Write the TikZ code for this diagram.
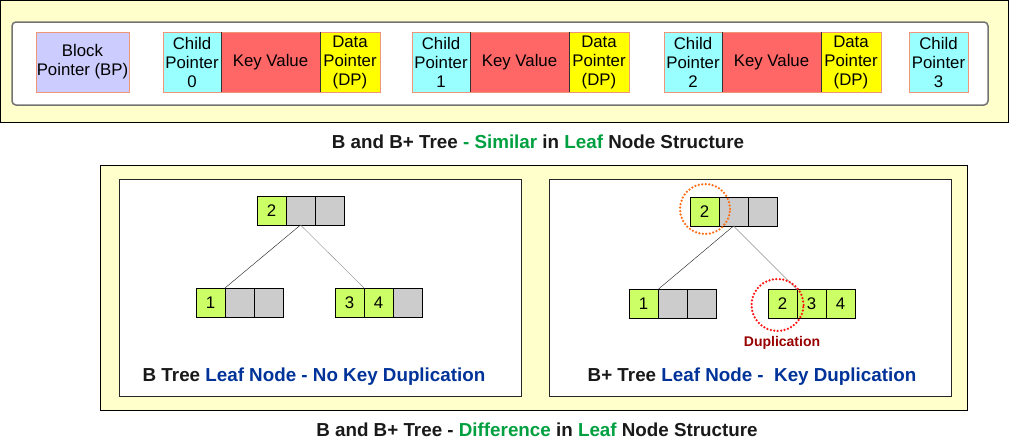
\documentclass[tikz,border=0pt]{standalone}
\usepackage{fontspec}
\setmainfont{Liberation Sans}
\usetikzlibrary{positioning}
\definecolor{paleyellow}{RGB}{255,255,204}
\definecolor{bplilac}{RGB}{204,204,255}
\definecolor{cpcyan}{RGB}{153,255,255}
\definecolor{kvred}{RGB}{255,102,102}
\definecolor{dpyellow}{RGB}{255,255,0}
\definecolor{cellborder}{RGB}{240,150,120}
\definecolor{keygreen}{RGB}{204,255,102}
\definecolor{emptygray}{RGB}{204,204,204}
\definecolor{titlegreen}{RGB}{0,160,64}
\definecolor{titleblue}{RGB}{0,51,153}
\definecolor{dupred}{RGB}{153,0,0}
\definecolor{ringorange}{RGB}{255,110,20}
\definecolor{ringred}{RGB}{255,20,20}

\begin{document}
\begin{tikzpicture}[x=1pt, y=-1pt,
    every node/.style={font=\fontsize{16.8}{19}\selectfont, inner sep=0pt, outer sep=0pt},
    field/.style={draw=cellborder, line width=0.8pt, minimum height=60pt, align=center},
    keycell/.style={draw=black, fill=keygreen, minimum width=29pt, minimum height=29pt},
    emptycell/.style={draw=black, fill=emptygray, minimum width=29pt, minimum height=29pt},
    heading/.style={font=\fontsize{18.8}{22}\selectfont\bfseries, text=black!90},
    ring/.style={circle, line width=2.5pt, dash pattern=on 0pt off 3.5pt, line cap=round}]
    \useasboundingbox (0,0) rectangle (1010,439);

    % Node structure panel
    \draw[fill=paleyellow, line width=1pt] (0.5,0.5) rectangle (1008.5,122.5);
    \draw[fill=white, draw=black!55, line width=1.5pt, rounded corners=4pt] (12,22) rectangle (988,105);

    \node[field, fill=bplilac, minimum width=93pt] (bp) at (82.5,62) {Block\\Pointer (BP)};

    \node[field, fill=cpcyan, minimum width=58pt] (cp0) at (192,62) {Child\\Pointer\\0};
    \node[field, fill=kvred, minimum width=99pt, right=0pt of cp0] (kv0) {Key Value};
    \node[field, fill=dpyellow, minimum width=60pt, right=0pt of kv0] (dp0) {Data\\Pointer\\(DP)};

    \node[field, fill=cpcyan, minimum width=58pt] (cp1) at (441,62) {Child\\Pointer\\1};
    \node[field, fill=kvred, minimum width=99pt, right=0pt of cp1] (kv1) {Key Value};
    \node[field, fill=dpyellow, minimum width=60pt, right=0pt of kv1] (dp1) {Data\\Pointer\\(DP)};

    \node[field, fill=cpcyan, minimum width=58pt] (cp2) at (693,62) {Child\\Pointer\\2};
    \node[field, fill=kvred, minimum width=99pt, right=0pt of cp2] (kv2) {Key Value};
    \node[field, fill=dpyellow, minimum width=60pt, right=0pt of kv2] (dp2) {Data\\Pointer\\(DP)};

    \node[field, fill=cpcyan, minimum width=59pt] (cp3) at (938.5,62) {Child\\Pointer\\3};

    % dark separators
    \draw[black!80] (cp0.north east) -- (cp0.south east) (kv0.north east) -- (kv0.south east);
    \draw[black!80] (cp1.north east) -- (cp1.south east) (kv1.north east) -- (kv1.south east);
    \draw[black!80] (cp2.north east) -- (cp2.south east) (kv2.north east) -- (kv2.south east);

    \node[heading] (simtitle) at (538,142) {B and B+ Tree \textcolor{titlegreen}{- Similar} in \textcolor{titlegreen}{Leaf} Node Structure};

    % Difference panel
    \draw[fill=paleyellow, line width=1pt] (100,165) rectangle (967,410);
    \draw[fill=white, draw=black!85] (119,179) rectangle (521,396);
    \draw[fill=white, draw=black!85] (549,179) rectangle (951,396);

    % B tree
    \node[keycell] (lr1) at (271.5,210.5) {2};
    \node[emptycell, right=0pt of lr1] (lr2) {};
    \node[emptycell, right=0pt of lr2] (lr3) {};
    \node[keycell] (la1) at (210.5,302.5) {1};
    \node[emptycell, right=0pt of la1] (la2) {};
    \node[emptycell, right=0pt of la2] (la3) {};
    \node[keycell] (lb1) at (349.5,302.5) {3};
    \node[keycell, right=0pt of lb1] (lb2) {4};
    \node[emptycell, right=0pt of lb2] (lb3) {};
    \draw[black!90] (lr2.south) -- (la1.north east);
    \draw[black!45] (lr2.south) -- (lb1.north east);

    \node[heading] (bcap) at (314,377) {B Tree \textcolor{titleblue}{Leaf Node - No Key Duplication}};

    % B+ tree
    \node[keycell] (rr1) at (704.5,211.5) {2};
    \node[emptycell, right=0pt of rr1] (rr2) {};
    \node[emptycell, right=0pt of rr2] (rr3) {};
    \node[keycell] (ra1) at (643.5,304) {1};
    \node[emptycell, right=0pt of ra1] (ra2) {};
    \node[emptycell, right=0pt of ra2] (ra3) {};
    \node[keycell] (rb1) at (782.5,304) {2};
    \node[keycell, right=0pt of rb1] (rb2) {3};
    \node[keycell, right=0pt of rb2] (rb3) {4};
    \draw[black!90] (rr2.south) -- (ra1.north east);
    \draw[black!45] (rr2.south) -- (rb1.north east);

    \node[ring, draw=ringorange, minimum size=50pt] (rootring) at (705,209) {};
    \node[ring, draw=ringred, minimum size=52pt] (leafring) at (777.5,305) {};
    \node[font=\fontsize{14}{16}\selectfont\bfseries, text=dupred] (duplabel) at (782,343) {Duplication};

    \node[heading] (bpcap) at (752,377) {B+ Tree \textcolor{titleblue}{Leaf Node - \ Key Duplication}};

    \node[heading] (difftitle) at (537,430) {B and B+ Tree - \textcolor{titlegreen}{Difference} in \textcolor{titlegreen}{Leaf} Node Structure};
\end{tikzpicture}
\end{document}
